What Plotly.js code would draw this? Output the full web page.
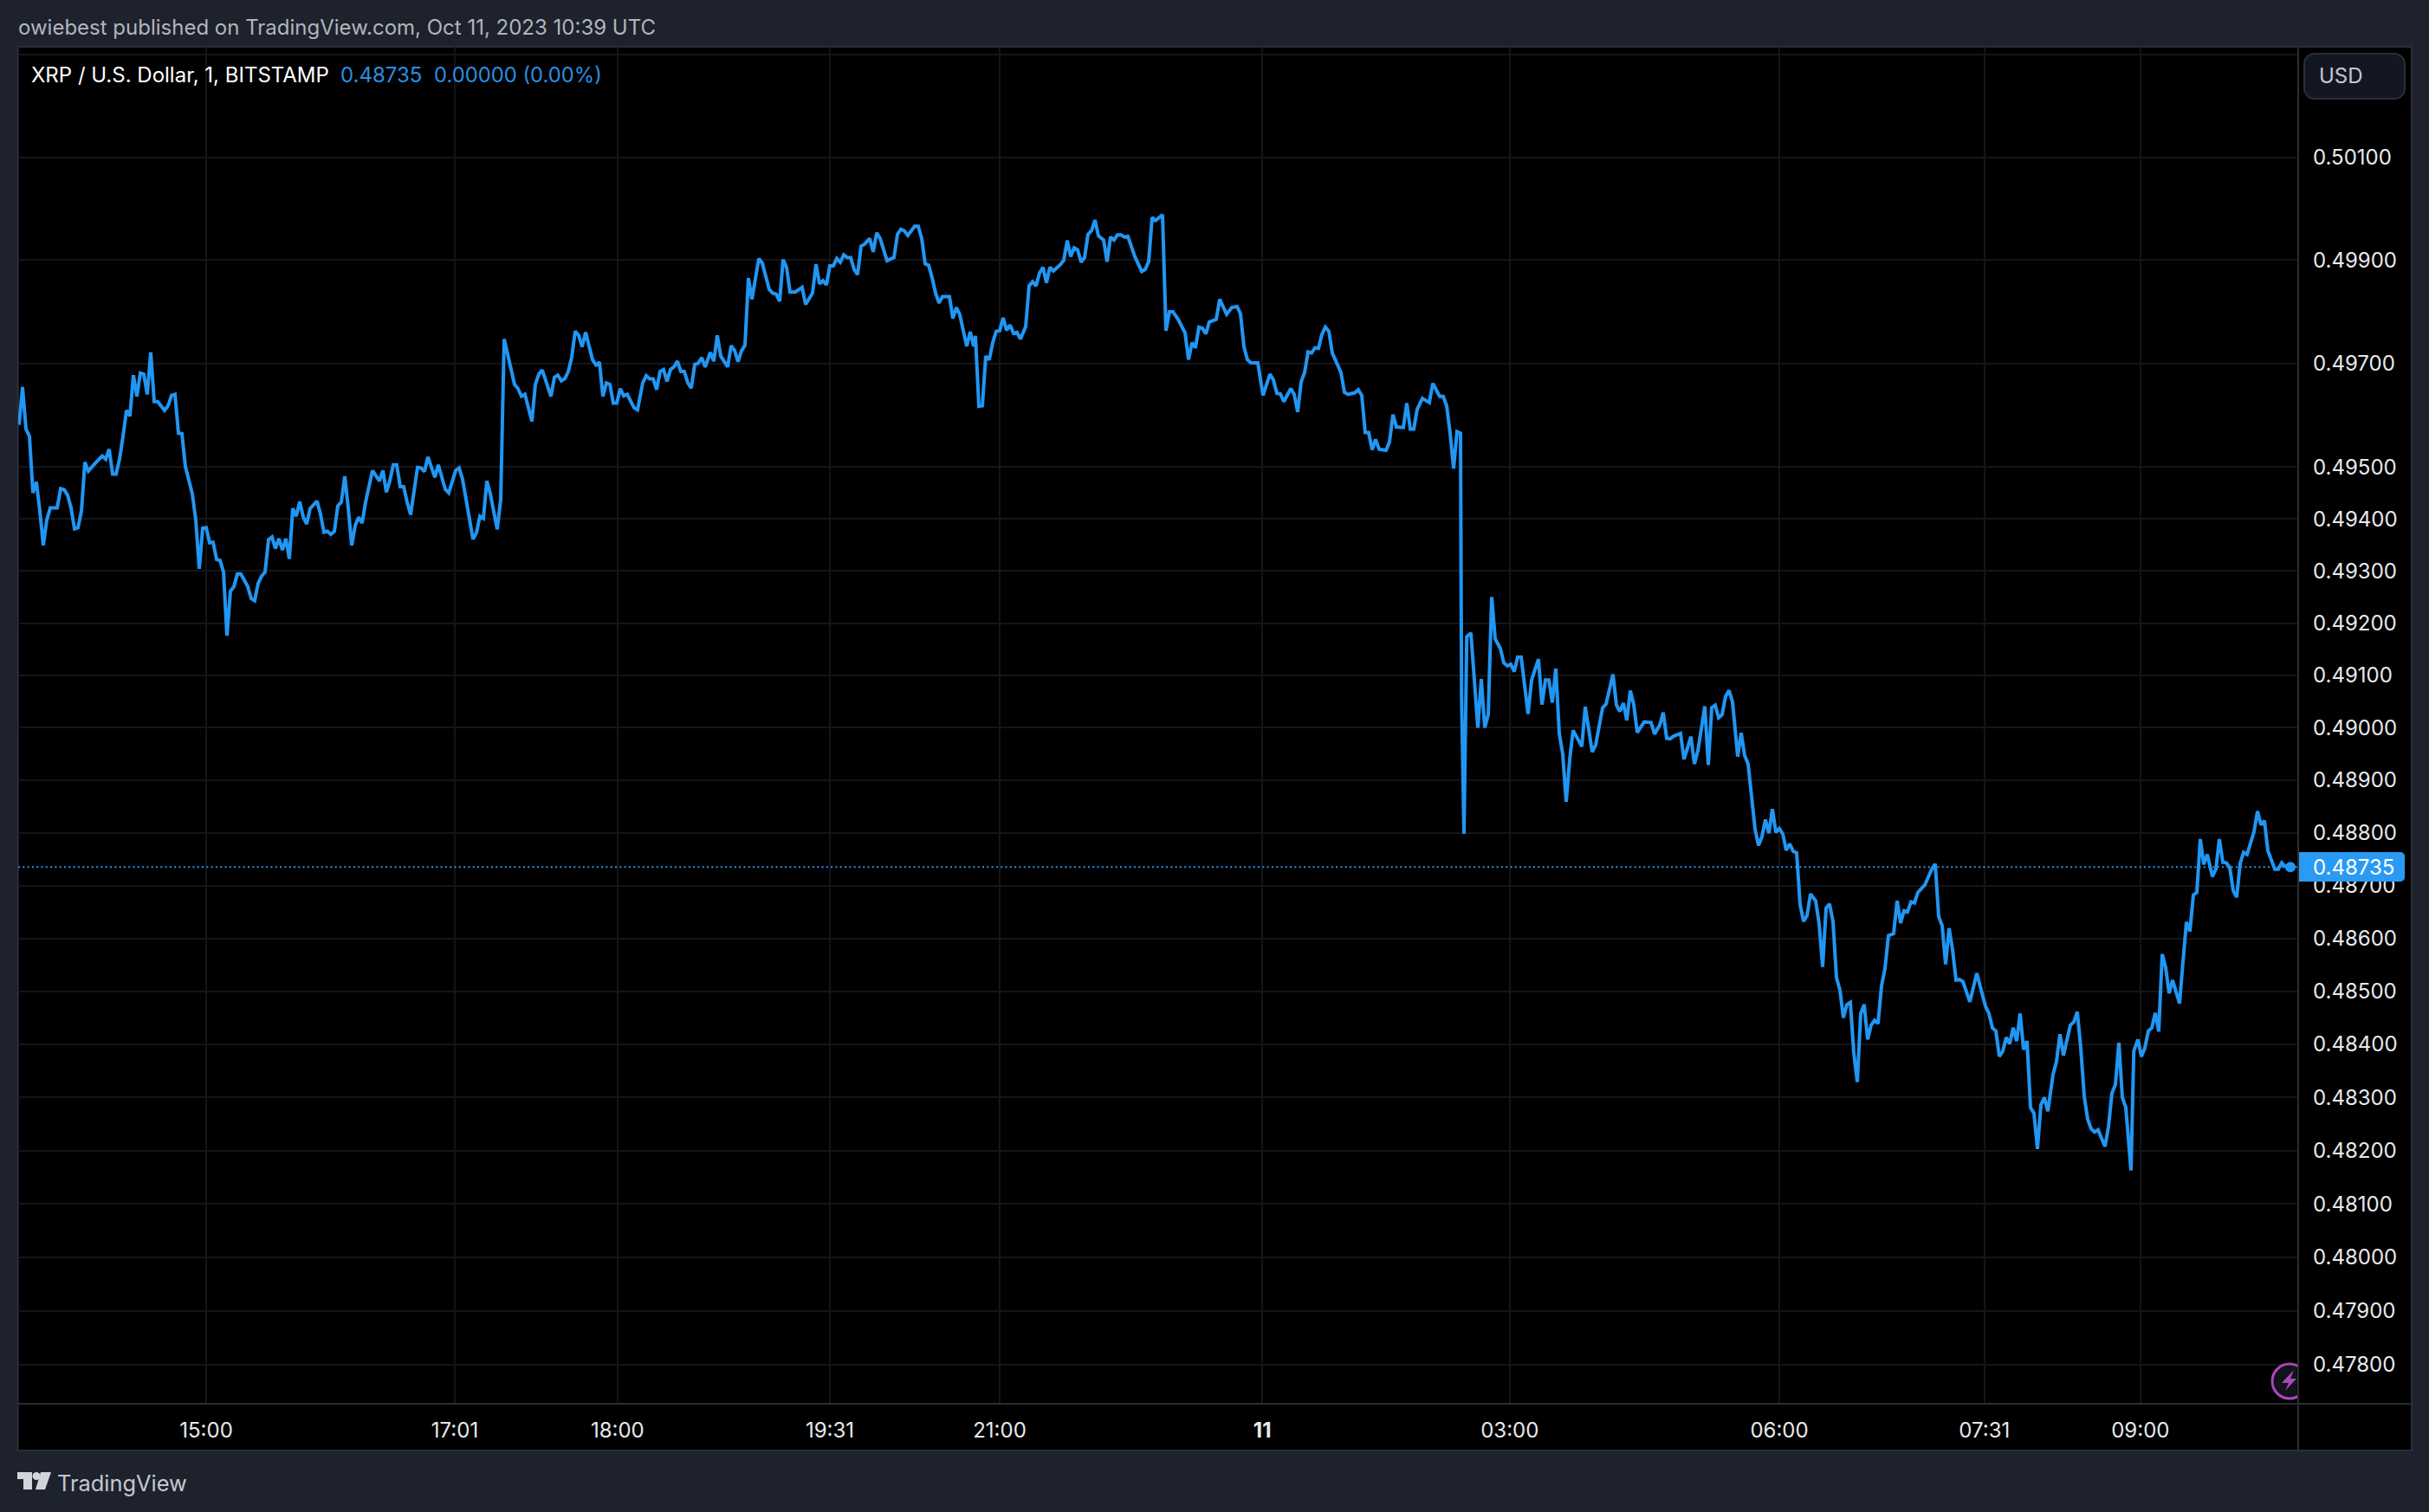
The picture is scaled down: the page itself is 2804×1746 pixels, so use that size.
<!DOCTYPE html>
<html><head><meta charset="utf-8">
<script src="https://cdn.plot.ly/plotly-3.0.1.min.js"></script>
<style>html,body{margin:0;padding:0;background:#1e222d;overflow:hidden}#c{width:2804px;height:1746px}</style>
</head><body><div id="c"></div>
<script>
// bar number along the compressed 1-minute time scale, with close price
const barIndex = [0,1,2,3,4,5,6,7,8,9,11,12,13,14,15,16,17,18,19,20,22,24,25,26,27,28,29,30,31,32,33,34,35,36,37,38,39,40,42,43,44,45,46,47,48,50,51,52,53,54,55,56,57,58,59,60,61,62,63,64,66,67,68,69,70,71,72,73,74,75,76,77,78,79,80,81,82,83,84,86,87,88,89,90,91,92,93,94,95,96,97,98,99,100,102,104,105,106,107,108,109,110,111,112,113,115,116,117,118,120,121,123,124,126,127,128,131,132,133,134,135,136,138,139,140,143,144,145,146,148,149,
150,151,153.5,154.5,155.5,156.5,157.5,158.5,159.5,160.5,161.5,162.5,163.5,165.5,166.5,167.5,168.5,169.5,170.5,171.5,172.5,173.5,174.5,175.5,177.5,178.5,179,180,181,182,183,184,185,186,187,188,189,190,191,192,193,194,195,196,197,198,199.5,200.5,201.5,202.5,204.5,205.5,206.5,207.5,208.5,209.5,210.5,211.5,213.5,214.5,216.5,217.5,218.5,219.5,220.5,221.5,222.5,224,226,227,229,230,231,232,233,234,235,236,237,238,239,240,241,242,243,244,245.5,246.5,247.5,248.5,250.5,252.5,253.5,254.5,255.5,256.5,258.5,259.5,260.5,261.5,262.5,263.5,264.5,265.5,266.5,268.5,269.5,270.5,271.5,273.5,274.5,275.5,276,277,278,279,280,281,282,283,284,285,286,287,288,289,290.5,291.5,292.5,293.5,294.5,
295.5,296.5,297.5,298.5,300.5,301.5,302.5,303.5,304.5,305.5,306.5,307.5,308.5,309.5,310.5,311.5,313,314,315,316,317,318,319,320,322,324,325,326,327,328,330,331,332,333,334.5,336.5,337.5,338.5,339.5,340.5,341.5,342.5,343.5,345.5,346.5,348.5,350,351.5,352.5,353.5,354.5,355.5,357.5,359,361,362,363,364,365,367,368,369,370,371,372,373,374,375,376,377,378,379,381.5,382.5,383.5,385.5,386.5,387.5,388.5,389.5,390.5,391.5,392.5,394.5,395.5,396.5,397.5,399.5,400.5,401.5,402.5,403.5,405,407,408,410,411,412,413,414,415,416,416.3,
417,417.8,419,421,422,423,424,425,426,427.5,428.5,429.5,430.5,431.5,432.5,433.5,435.5,436.5,438.5,439.5,440.5,441.5,442.5,443.5,444.5,445.5,446.5,447.5,448.5,451,452,454,455,457,458,460,461,462,463,464,465,466,467,469,471,472,473.5,474.5,475.5,476.5,477.5,479.5,480.5,482.5,483.5,484.5,486.5,487.5,488.5,489.5,490.5,491.5,492.5,493.5,494.5,496,497,498,499,501,502,503,504,505,506,507,508,509,510,511,512,513,
514,515,516,517,518.5,519.5,520.5,521.5,522.5,523.5,524.5,525.5,526.5,527.5,528.5,529.5,530.5,531.5,532.5,533.5,534.5,535.5,536.5,537.5,538.5,539.5,541,542,543,544,545,546,547,548,549,550,552,553,554,555,556,557,558,559,560,561,563,565,566.5,567.5,568.5,569.5,570.5,571.5,572.5,573.5,574.5,575.5,576.5,577.5,578.5,579.5,580.5,581.5,582.5,583.5,584.5,585.5,587,588,589,590,592,593,594,595,596,597,598,599,600,601,602,603,604,605,606,607,608,609.5,610.3,611.5,612.5,613.5,614.5,615.5,616.5,617.5,618.5,619.5,620.5,621.5,623.5,624.5,625.5,626.5,627.5,628.5,629.5,630.5,631.5,633,634,635,636,637,638,639,640,641,642,643,645,646,647,648,649,651,652,653,654,655.5];
const closePrice = [0.49581,0.49654,0.49573,0.49559,0.49450,0.49471,0.49415,0.49349,0.49398,0.49421,0.49421,0.49458,0.49456,0.49446,0.49421,0.49381,0.49383,0.49415,0.49509,0.49492,0.49507,0.49521,0.49515,0.49534,0.49486,0.49486,0.49515,0.49559,0.49609,0.49598,0.49677,0.49636,0.49681,0.49679,0.49640,0.49721,0.49626,0.49626,0.49609,0.49618,0.49638,0.49640,0.49565,0.49564,0.49501,0.49448,0.49398,0.49304,0.49382,0.49383,0.49354,0.49355,0.49322,0.49320,0.49298,0.49176,0.49261,0.49270,0.49294,0.49294,0.49270,0.49247,0.49243,0.49276,0.49290,0.49298,0.49360,0.49365,0.49343,0.49362,0.49340,0.49362,0.49323,0.49420,0.49405,0.49433,0.49404,0.49390,0.49420,0.49434,0.49409,0.49374,0.49376,0.49370,0.49376,0.49425,0.49432,0.49482,0.49421,0.49349,0.49387,0.49403,0.49392,0.49432,0.49493,0.49473,0.49493,0.49451,0.49473,0.49504,0.49504,0.49462,0.49462,0.49432,0.49408,0.49499,0.49498,0.49491,0.49519,0.49480,0.49504,0.49457,0.49450,0.49493,0.49498,0.49476,0.49361,0.49373,0.49405,0.49401,0.49473,0.49448,0.49380,0.49437,0.49747,0.49659,0.49651,0.49636,0.49640,0.49588,0.49659,
0.49679,0.49687,0.49636,0.49673,0.49677,0.49666,0.49670,0.49684,0.49712,0.49762,0.49754,0.49732,0.49760,0.49707,0.49697,0.49702,0.49636,0.49662,0.49659,0.49623,0.49623,0.49651,0.49637,0.49640,0.49614,0.49610,0.49628,0.49662,0.49676,0.49670,0.49670,0.49649,0.49684,0.49688,0.49665,0.49688,0.49693,0.49704,0.49684,0.49684,0.49662,0.49652,0.49698,0.49700,0.49711,0.49693,0.49721,0.49704,0.49754,0.49714,0.49693,0.49734,0.49725,0.49703,0.49724,0.49735,0.49865,0.49824,0.49903,0.49894,0.49843,0.49836,0.49834,0.49820,0.49901,0.49886,0.49838,0.49838,0.49847,0.49814,0.49836,0.49892,0.49854,0.49860,0.49852,0.49889,0.49889,0.49903,0.49896,0.49910,0.49905,0.49905,0.49882,0.49872,0.49927,0.49931,0.49942,0.49916,0.49953,0.49942,0.49899,0.49905,0.49950,0.49960,0.49957,0.49948,0.49966,0.49966,0.49942,0.49893,0.49890,0.49866,0.49836,0.49817,0.49829,0.49829,0.49787,0.49808,0.49794,0.49733,0.49761,0.49733,0.49753,0.49617,0.49618,0.49714,0.49707,0.49740,0.49762,0.49763,0.49788,0.49764,0.49774,0.49758,0.49760,0.49747,0.49771,0.49850,0.49858,0.49850,0.49875,
0.49886,0.49856,0.49886,0.49879,0.49891,0.49900,0.49938,0.49907,0.49924,0.49920,0.49896,0.49905,0.49950,0.49957,0.49978,0.49947,0.49939,0.49897,0.49945,0.49939,0.49949,0.49949,0.49945,0.49946,0.49907,0.49878,0.49882,0.49897,0.49983,0.49977,0.49988,0.49763,0.49800,0.49800,0.49785,0.49759,0.49707,0.49740,0.49730,0.49770,0.49768,0.49757,0.49780,0.49785,0.49824,0.49795,0.49808,0.49810,0.49796,0.49732,0.49707,0.49701,0.49701,0.49638,0.49679,0.49668,0.49642,0.49641,0.49626,0.49651,0.49640,0.49606,0.49664,0.49682,0.49722,0.49720,0.49730,0.49729,0.49756,0.49770,0.49762,0.49720,0.49682,0.49644,0.49640,0.49643,0.49649,0.49638,0.49566,0.49566,0.49533,0.49553,0.49534,0.49532,0.49548,0.49601,0.49577,0.49576,0.49623,0.49573,0.49573,0.49611,0.49632,0.49624,0.49661,0.49636,0.49636,0.49618,0.49565,0.49497,0.49568,0.49565,0.49060,
0.48798,0.49174,0.49181,0.49000,0.49093,0.49000,0.49025,0.49250,0.49170,0.49151,0.49124,0.49118,0.49121,0.49107,0.49135,0.49135,0.49026,0.49091,0.49131,0.49044,0.49091,0.49091,0.49048,0.49113,0.48989,0.48950,0.48859,0.48939,0.48995,0.48964,0.49040,0.48954,0.48967,0.49038,0.49045,0.49102,0.49043,0.49031,0.49047,0.49014,0.49071,0.49044,0.48991,0.49011,0.49010,0.48988,0.49005,0.49029,0.48980,0.48979,0.48984,0.48989,0.48940,0.48983,0.48931,0.48956,0.49041,0.48929,0.49038,0.49043,0.49019,0.49025,0.49060,0.49071,0.49049,0.48945,0.48990,0.48947,0.48931,0.48807,0.48776,0.48793,0.48825,0.48799,0.48845,0.48801,0.48808,0.48798,0.48767,0.48779,0.48765,0.48762,
0.48664,0.48632,0.48643,0.48684,0.48671,0.48627,0.48546,0.48657,0.48665,0.48632,0.48526,0.48502,0.48450,0.48475,0.48479,0.48384,0.48329,0.48458,0.48475,0.48409,0.48436,0.48445,0.48439,0.48510,0.48543,0.48605,0.48609,0.48671,0.48629,0.48652,0.48650,0.48669,0.48667,0.48687,0.48694,0.48701,0.48731,0.48741,0.48641,0.48624,0.48551,0.48619,0.48578,0.48521,0.48522,0.48518,0.48480,0.48534,0.48496,0.48472,0.48458,0.48431,0.48425,0.48377,0.48387,0.48413,0.48401,0.48431,0.48406,0.48458,0.48390,0.48406,0.48281,0.48270,0.48203,0.48286,0.48300,0.48274,0.48343,0.48368,0.48419,0.48379,0.48436,0.48442,0.48461,0.48393,0.48302,0.48259,0.48241,0.48235,0.48239,0.48223,0.48208,0.48245,0.48308,0.48324,0.48403,0.48300,0.48281,0.48163,0.48387,0.48409,0.48377,0.48393,0.48425,0.48431,0.48459,0.48424,0.48570,0.48545,0.48496,0.48521,0.48477,0.48556,0.48631,0.48613,0.48682,0.48687,0.48788,0.48740,0.48759,0.48717,0.48731,0.48788,0.48744,0.48743,0.48734,0.48690,0.48678,0.48742,0.48763,0.48759,0.48802,0.48841,0.48815,0.48823,0.48766,0.48731,0.48731,0.48743,0.48736,0.48735];
const lastPrice = 0.48735;
const priceTicks = [0.503,0.501,0.499,0.497,0.495,0.494,0.493,0.492,0.491,0.490,0.489,0.488,0.487,0.486,0.485,0.484,0.483,0.482,0.481,0.480,0.479,0.478];
const priceLabels = ["","0.50100","0.49900","0.49700","0.49500","0.49400","0.49300","0.49200","0.49100","0.49000","0.48900","0.48800","0.48700","0.48600","0.48500","0.48400","0.48300","0.48200","0.48100","0.48000","0.47900","0.47800"];
const timeTicks = [54,125.75,172.7,234,283,358.8,430.2,508,567.2,612.2];
const timeLabels = ["15:00","17:01","18:00","19:31","21:00","<b>11</b>","03:00","06:00","07:31","09:00"];
const headerText = "owiebest published on TradingView.com, Oct 11, 2023 10:39 UTC";
const legendName = "XRP / U.S. Dollar, 1, BITSTAMP";
const legendPrice = "0.48735";
const legendChange = "0.00000 (0.00%)";

const W=2804,H=1746,L=21,R=2653,T=54,B=1621;
const px=x=>(x-L)/(R-L), py=y=>(B-y)/(B-T);
const FONT="Inter, 'Liberation Sans', sans-serif";
const BLUE="#2196f3", BORDER="#2a2e39";
function rect(x0,y0,x1,y1,fill,line,lw,layer){return {type:'rect',xref:'paper',yref:'paper',x0:px(x0),x1:px(x1),y0:py(y1),y1:py(y0),fillcolor:fill,line:{color:line||fill,width:line?(lw||2):0},layer:layer||'below'};}
function pathShape(pts,fill,line,lw,layer){
  const d=pts.map(p=>p.length===1?p[0]:p[0]+px(p[1])+','+py(p[2])).join(' ');
  return {type:'path',path:d,xref:'paper',yref:'paper',fillcolor:fill,line:{color:line||fill,width:line?(lw||2):0},layer:layer||'above'};
}
function note(x,y,text,size,color,anchor){return {xref:'paper',yref:'paper',x:px(x),y:py(y),text:text,showarrow:false,xanchor:anchor||'left',yanchor:'middle',font:{family:FONT,size:size,color:color}};}
function circle(cx,cy,r,fill,line,lw){return {type:'circle',xref:'paper',yref:'paper',x0:px(cx-r),x1:px(cx+r),y0:py(cy+r),y1:py(cy-r),fillcolor:fill,line:{color:line||fill,width:line?lw:0},layer:'above'};}
function roundRect(x0,y0,x1,y1,r,fill,line){
  const k=r*0.45;
  return {type:'path',xref:'paper',yref:'paper',fillcolor:fill,line:{color:line,width:2},layer:'above',
   path:`M${px(x0+r)},${py(y0)} L${px(x1-r)},${py(y0)} C${px(x1-k)},${py(y0)} ${px(x1)},${py(y0+k)} ${px(x1)},${py(y0+r)} L${px(x1)},${py(y1-r)} C${px(x1)},${py(y1-k)} ${px(x1-k)},${py(y1)} ${px(x1-r)},${py(y1)} L${px(x0+r)},${py(y1)} C${px(x0+k)},${py(y1)} ${px(x0)},${py(y1-k)} ${px(x0)},${py(y1-r)} L${px(x0)},${py(y0+r)} C${px(x0)},${py(y0+k)} ${px(x0+k)},${py(y0)} ${px(x0+r)},${py(y0)} Z`};
}
function tagShape(x0,y0,x1,y1,r,fill){
  const k=r*0.45;
  return {type:'path',xref:'paper',yref:'paper',fillcolor:fill,line:{width:0},layer:'above',
   path:`M${px(x0)},${py(y0)} L${px(x1-r)},${py(y0)} C${px(x1-k)},${py(y0)} ${px(x1)},${py(y0+k)} ${px(x1)},${py(y0+r)} L${px(x1)},${py(y1-r)} C${px(x1)},${py(y1-k)} ${px(x1-k)},${py(y1)} ${px(x1-r)},${py(y1)} L${px(x0)},${py(y1)} Z`};
}

const traces=[
 {type:'scatter',mode:'lines',x:[-0.25,657.75],y:[lastPrice,lastPrice],line:{color:BLUE,width:2,dash:'2px,3.3px'},hoverinfo:'skip'},
 {type:'scatter',mode:'lines',x:barIndex,y:closePrice,line:{color:BLUE,width:4,simplify:false},hoverinfo:'skip'},
 {type:'scatter',mode:'markers',x:[barIndex[barIndex.length-1]],y:[lastPrice],marker:{color:BLUE,size:12},hoverinfo:'skip'}
];
const layout={
 width:W,height:H,showlegend:false,paper_bgcolor:'#1e222d',plot_bgcolor:'#000000',
 margin:{l:L,r:W-R,t:T,b:H-B,pad:0},
 font:{family:FONT,color:'#e8e9ec'},
 xaxis:{type:'linear',range:[-0.25,657.75],tickmode:'array',tickvals:timeTicks,ticktext:timeLabels,showgrid:true,gridcolor:'#141518',gridwidth:2,zeroline:false,showline:false,ticks:'',tickfont:{family:FONT,size:24,color:'#e8e9ec'},ticklabelstandoff:14,fixedrange:true},
 yaxis:{type:'log',side:'right',range:[Math.log10(0.477275),Math.log10(0.503161)],autorange:false,tickmode:'array',tickvals:priceTicks,ticktext:priceLabels,showgrid:true,gridcolor:'#141518',gridwidth:2,zeroline:false,showline:false,ticks:'',tickfont:{family:FONT,size:24,color:'#e8e9ec'},ticklabelstandoff:16,fixedrange:true},
 shapes:[
  rect(20.7,54,2784,1675,'#000000',BORDER,2,'below'),
  tagShape(2652,984,2776,1018,5,'#2a9af5'),
  circle(2643,1595,20,'#10131a','#ab47bc',3),
  pathShape([['M',2648,1582],['L',2634,1597],['L',2642,1597],['L',2638,1606],['L',2651,1592],['L',2644,1592],['Z']],'#ab47bc'),
  rect(2654,1570,2667,1619,'#000000',null,0,'above'),
  {type:'line',xref:'paper',yref:'paper',x0:px(2653),x1:px(2653),y0:py(54),y1:py(1675),line:{color:'#2b2d31',width:2},layer:'above'},
  {type:'line',xref:'paper',yref:'paper',x0:px(20.7),x1:px(2784),y0:py(1621),y1:py(1621),line:{color:'#2b2d31',width:2},layer:'above'},
  roundRect(2660,62,2776,114,12,'#131722',BORDER),
  pathShape([['M',20,1700],['L',37,1700],['L',37,1720],['L',27,1720],['L',27,1708],['L',20,1708],['Z']],'#d1d4dc'),
  circle(42,1704.5,4.5,'#d1d4dc'),
  pathShape([['M',47,1700],['L',59,1700],['L',52,1720],['L',41,1720],['Z']],'#d1d4dc')
 ],
 annotations:[
  note(18.5,32,headerText,24,'#b2b5be'),
  note(34,86,legendName,24,'#ffffff'),
  note(390.5,86,legendPrice,24,'#2a8fe0'),
  note(498.5,86,legendChange,23.8,'#2a8fe0'),
  note(2675,87,'USD',24,'#c5c8d2'),
  note(2668,1001,legendPrice,24,'#ffffff'),
  note(64,1712,'TradingView',25.4,'#c5c8d2')
 ]
};
Plotly.newPlot('c',traces,layout,{displayModeBar:false,staticPlot:true});
</script></body></html>
